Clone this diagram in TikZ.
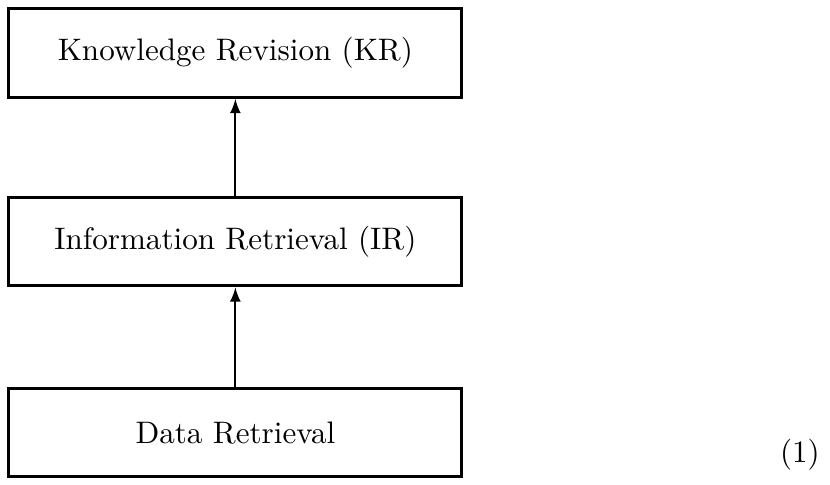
\documentclass[tikz,border=0pt]{standalone}
\begin{document}
\begin{tikzpicture}[stage/.style={draw,line width=1pt,minimum width=5.12cm,minimum height=1.0cm}]
\useasboundingbox (0,0) rectangle (9.38,5.48);
\node[stage] (kr) at (2.66,4.88) {Knowledge Revision (KR)};
\node[stage] (ir) at (2.66,2.75) {Information Retrieval (IR)};
\node[stage] (dr) at (2.66,0.59) {Data Retrieval};
\node (eqno) at (9.04,0.34) {(1)};
\draw[-latex,line width=0.6pt] (dr) -- (ir);
\draw[-latex,line width=0.6pt] (ir) -- (kr);
\end{tikzpicture}
\end{document}
